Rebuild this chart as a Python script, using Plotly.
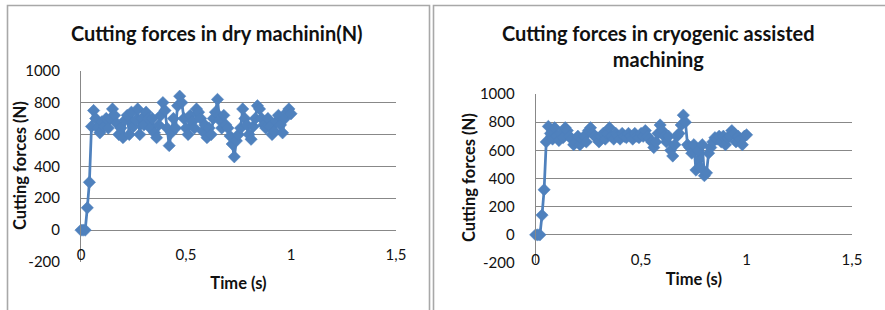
import plotly.graph_objects as go

# ---------------- data ----------------
time_s = [round(i * 0.01, 2) for i in range(101)]

dry_forces = [0, 0, 0, 140, 300, 650, 750, 700, 640, 610,
              680, 650, 700, 640, 700, 760, 720, 670, 600, 640,
              580, 690, 720, 600, 740, 650, 690, 760, 600, 700,
              660, 740, 700, 640, 700, 610, 580, 660, 720, 800,
              750, 640, 530, 610, 700, 640, 780, 840, 800, 700,
              640, 600, 720, 680, 640, 760, 740, 700, 620, 660,
              580, 640, 600, 700, 740, 820, 690, 640, 720, 660,
              640, 590, 540, 460, 560, 600, 640, 760, 700, 660,
              600, 570, 650, 700, 780, 760, 700, 660, 640, 700,
              650, 600, 620, 680, 720, 660, 610, 700, 740, 760, 730]

cryo_forces = [0, 0, 0, 140, 320, 660, 770, 720, 680, 760,
               700, 670, 720, 690, 760, 740, 700, 680, 640, 660,
               700, 640, 680, 700, 660, 740, 760, 720, 700, 690,
               660, 700, 720, 680, 720, 760, 700, 680, 720, 700,
               680, 720, 700, 690, 720, 700, 680, 720, 700, 690,
               720, 700, 740, 700, 680, 660, 620, 660, 720, 780,
               740, 700, 660, 700, 600, 560, 640, 700, 720, 780,
               850, 800, 640, 620, 580, 640, 460, 600, 480, 640,
               420, 440, 580, 620, 660, 690, 680, 700, 660, 700,
               640, 690, 700, 740, 720, 660, 700, 680, 640, 700, 710]

x_tickvals = [0, 0.5, 1, 1.5]
x_ticktext = ["0", "0,5", "1", "1,5"]
y_tickvals = [-200, 0, 200, 400, 600, 800, 1000]
y_ticktext = ["-200", "0", "200", "400", "600", "800", "1000"]

title_left = "Cutting forces in dry machinin(N)"
title_right = "Cutting forces in cryogenic assisted<br>machining"
y_title = "Cutting forces (N)"
x_title = "Time (s)"

# ---------------- styling ----------------
W, H = 885, 310
BLUE = "#4F81BD"
GRID = "#888888"
TXT = "#111111"
FONT = "Lato"

def px_x(v):
    return v / W

def px_y(v):
    return 1 - v / H

fig = go.Figure()
for xa, ya, vals in (("x", "y", dry_forces), ("x2", "y2", cryo_forces)):
    fig.add_trace(go.Scatter(
        x=time_s, y=vals, xaxis=xa, yaxis=ya, mode="lines+markers",
        line=dict(color=BLUE, width=2.75),
        marker=dict(symbol="diamond", size=9.5, color=BLUE,
                    line=dict(color=BLUE, width=0.5)),
        showlegend=False, cliponaxis=False, hoverinfo="skip",
    ))

def xaxis_cfg(domain, label_shift, standoff):
    return dict(
        domain=domain, range=[0, 1.5], tickvals=x_tickvals, ticktext=x_ticktext,
        showgrid=False, zeroline=False, showline=False, automargin=False,
        ticks="", ticklabelstandoff=label_shift,
        tickfont=dict(family=FONT, size=15, color=TXT),
        title=dict(text=x_title, standoff=standoff,
                   font=dict(family=FONT, size=16.5, color=TXT, weight="bold")),
        fixedrange=True,
    )

def yaxis_cfg(domain, anchor):
    return dict(
        domain=domain, range=[-200, 1000], tickvals=y_tickvals,
        ticktext=y_ticktext, anchor=anchor,
        showgrid=True, gridcolor=GRID, gridwidth=1,
        zeroline=True, zerolinecolor=GRID, zerolinewidth=1,
        showline=True, linecolor=GRID, linewidth=1, automargin=False,
        ticks="", ticklabelstandoff=17,
        tickfont=dict(family=FONT, size=15, color=TXT),
        fixedrange=True,
    )

def text_ann(text, x, y, size, angle=0):
    return dict(text=text, xref="paper", yref="paper",
                x=px_x(x), y=px_y(y), xanchor="center", yanchor="middle",
                showarrow=False, textangle=angle,
                font=dict(family=FONT, size=size, color=TXT, weight="bold"))

fig.update_layout(
    width=W, height=H, margin=dict(l=0, r=0, t=0, b=0),
    paper_bgcolor="white", plot_bgcolor="white",
    xaxis=dict(xaxis_cfg([px_x(81), px_x(396)], -18, 15), anchor="y"),
    yaxis=yaxis_cfg([px_y(262), px_y(70.7)], "x"),
    xaxis2=dict(xaxis_cfg([px_x(535.7), px_x(852)], -14, 6), anchor="y2"),
    yaxis2=yaxis_cfg([px_y(263), px_y(94)], "x2"),
    annotations=[
        text_ann(title_left, 216.5, 33, 20),
        text_ann(title_right, 658, 46, 20),
        text_ann(y_title, 20, 166, 16.5, -90),
        text_ann(y_title, 469, 178, 16.5, -90),
    ],
    shapes=[
        dict(type="rect", xref="paper", yref="paper",
             x0=px_x(7.5), x1=px_x(429.5), y0=px_y(320), y1=px_y(5.5),
             line=dict(color="#A8A8A8", width=1.6), layer="below"),
        dict(type="rect", xref="paper", yref="paper",
             x0=px_x(433.5), x1=px_x(900), y0=px_y(320), y1=px_y(5.5),
             line=dict(color="#A8A8A8", width=1.6), layer="below"),
    ],
)

fig.write_html(
    "out.html",
    config={"displayModeBar": False, "staticPlot": True},
    post_script="document.body.style.margin='0px';document.body.style.overflow='hidden';",
)
